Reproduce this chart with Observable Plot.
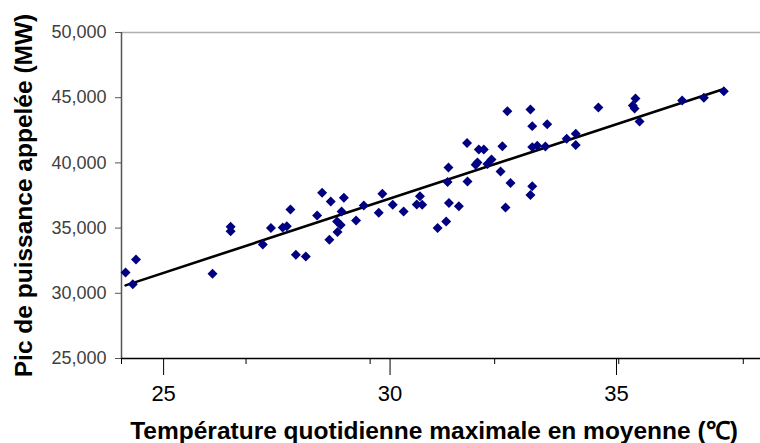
<!DOCTYPE html>
<html><head><meta charset="utf-8">
<script src="https://cdn.jsdelivr.net/npm/d3@7"></script>
<script src="https://cdn.jsdelivr.net/npm/@observablehq/plot@0.6"></script>
<style>html,body{margin:0;padding:0;background:#fff;}</style>
</head><body><div id="chart"></div>
<script>
const temperature = [24.16,24.32,24.39,26.08,26.48,26.48,27.19,27.37,27.63,27.72,
  27.80,27.92,28.14,28.39,28.50,28.66,28.69,28.83,28.84,28.91,
  28.93,28.98,29.25,29.42,29.75,29.83,30.06,30.30,30.59,30.66,
  30.71,31.05,31.24,31.29,31.27,31.30,31.52,31.70,31.71,31.89,
  31.93,31.96,32.07,32.15,32.24,32.44,32.48,32.55,32.59,32.66,
  33.10,33.10,33.14,33.14,33.14,33.25,33.43,33.47,33.90,34.10,
  34.10,34.60,35.42,35.36,35.40,35.51,36.45,36.93,37.37];
const peakMW = [31600,30700,32600,31500,35100,34750,33750,35000,35050,35150,
  36430,32950,32820,35970,37710,34100,37040,35510,34700,35240,
  36270,37320,35580,36730,36170,37630,36790,36270,36810,37450,
  36790,35010,35510,39650,38540,36930,36680,41530,38570,39860,
  40030,41030,41030,39920,40260,39340,41280,36580,43970,38460,
  44100,37540,42820,38210,41210,41310,41260,42970,41850,42230,
  41370,44250,44940,44400,44170,43180,44790,44990,45500];
const xMajorTicks = [25, 30, 35];
const xMinorTicks = [24.07, 26.82, 29.56, 32.31, 35.05, 37.80];
const yTicks = [25000, 30000, 35000, 40000, 45000, 50000];
const xDomain = [24.07, 38.18];
const yDomain = [25000, 50000];
const xTitle = "Température quotidienne maximale en moyenne (℃)";
const yTitle = "Pic de puissance appelée (MW)";

const data = temperature.map((t, i) => ({t, mw: peakMW[i]}));
const fmt = d3.format(",");

const chart = Plot.plot({
  width: 760, height: 443,
  marginLeft: 121, marginRight: 0, marginTop: 32, marginBottom: 85,
  style: {fontFamily: "'Liberation Sans', Arial, sans-serif", background: "#fff", overflow: "visible"},
  x: {domain: xDomain},
  y: {domain: yDomain},
  marks: [
    Plot.ruleY([yDomain[1]], {stroke: "#b0b0b0", strokeWidth: 1.5}),
    Plot.axisY({ticks: yTicks, tickFormat: fmt, tickSize: 6, tickPadding: 9, fontSize: 18,
      stroke: "#555", fill: "#404040", label: null}),
    Plot.axisX({ticks: xMinorTicks, tickSize: 6, tickFormat: () => "", stroke: "#000", label: null}),
    Plot.axisX({ticks: xMajorTicks, tickSize: 17, tickPadding: 10, fontSize: 22,
      stroke: "#000", fill: "#000", label: null}),
    Plot.ruleX([xDomain[0]], {stroke: "#555", strokeWidth: 1.5}),
    Plot.ruleY([yDomain[0]], {stroke: "#000", strokeWidth: 1.5}),
    Plot.linearRegressionY(data, {x: "t", y: "mw", ci: 0, stroke: "#000", strokeWidth: 2.6}),
    Plot.dot(data, {x: "t", y: "mw", symbol: "diamond2", r: 4.5, fill: "#000080", stroke: "none"}),
    Plot.text([yTitle], {text: d => d, frameAnchor: "left", dx: -97, rotate: -90,
      textAnchor: "middle", lineAnchor: "middle",
      fontSize: 24.5, fontWeight: "bold", fill: "#000"}),
    Plot.text([xTitle], {text: d => d, frameAnchor: "bottom", dy: 73, dx: -7,
      textAnchor: "middle", lineAnchor: "middle",
      fontSize: 24.5, fontWeight: "bold", fill: "#000"})
  ]
});
document.getElementById("chart").appendChild(chart);
</script>
</body></html>
